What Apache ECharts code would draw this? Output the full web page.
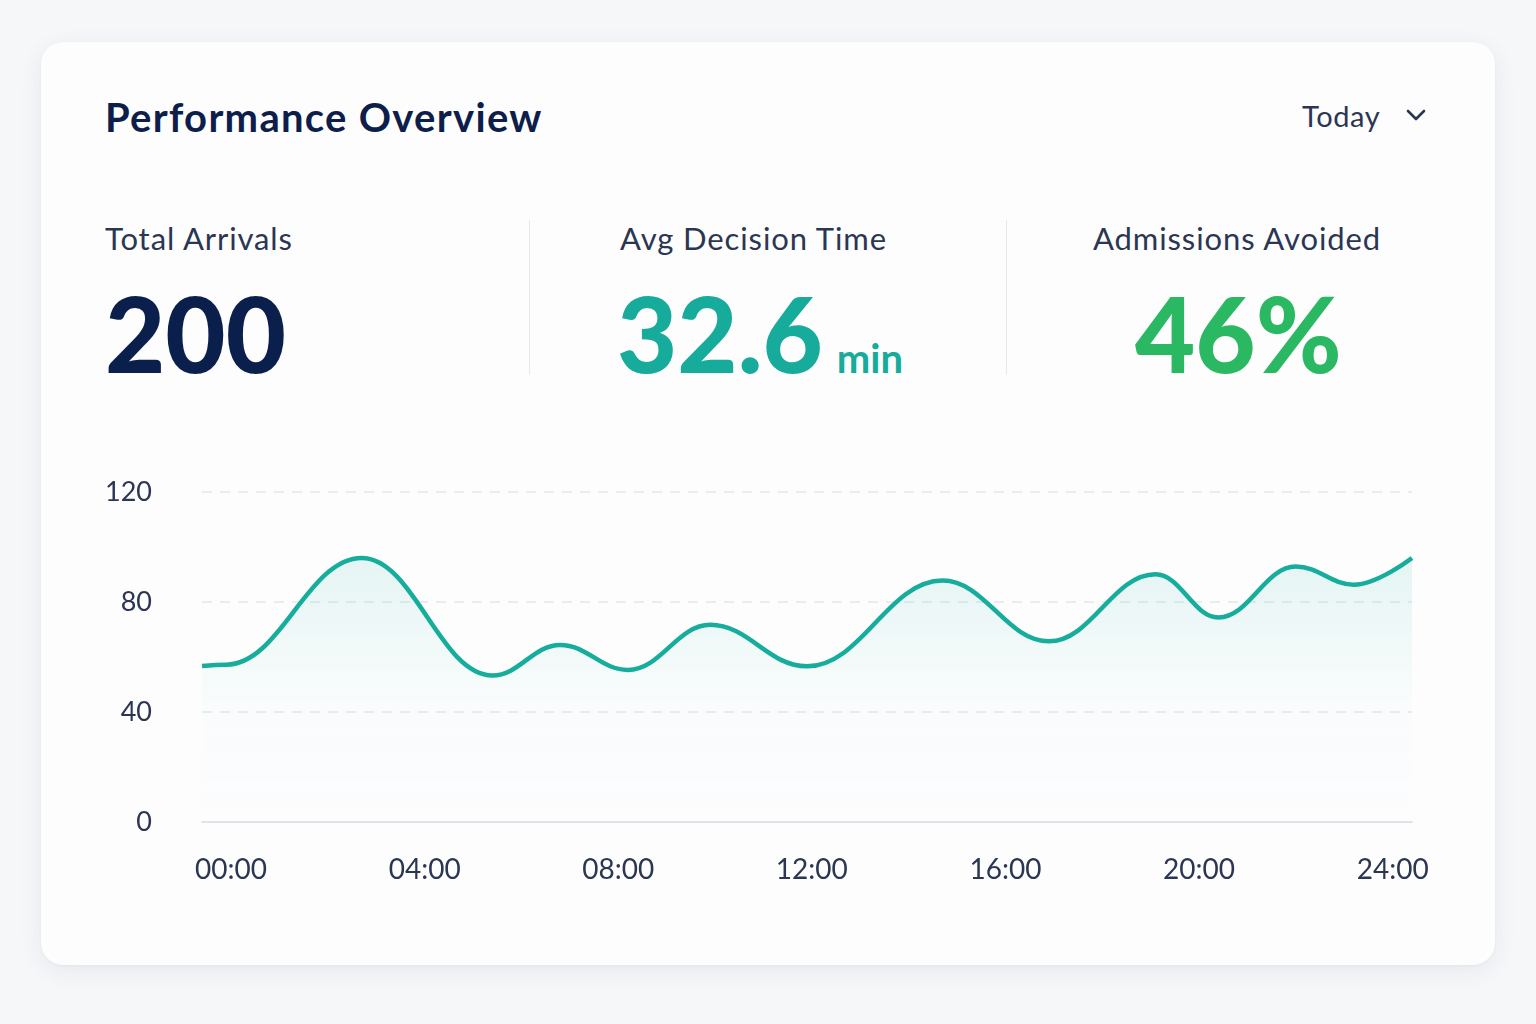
<!DOCTYPE html>
<html>
<head>
<meta charset="utf-8">
<script src="https://cdn.jsdelivr.net/npm/echarts@6/dist/echarts.min.js"></script>
<style>
	html, body { margin:0; padding:0; width:1536px; height:1024px; background:#f6f7f9; overflow:hidden; }
	body { font-family: Lato, "Noto Sans", sans-serif; color:#1f2b4a; position:relative; }
	.card { position:absolute; left:41px; top:42px; width:1454px; height:923px; background:#fdfdfe; border-radius:22px;
		box-shadow:0 6px 24px rgba(30,40,80,0.07), 0 1px 3px rgba(30,40,80,0.04); }
	.title { position:absolute; left:105px; top:93px; font-size:40px; font-weight:700; color:#0e1e4a; letter-spacing:1.3px; }
	.range { position:absolute; left:1302px; top:98px; font-size:29px; color:#2b3652; letter-spacing:0.6px; }
	.chev { position:absolute; left:1405px; top:108px; width:22px; height:14px; }
	.divider { position:absolute; top:220px; width:1px; height:155px; background:#e6e9ee; }
	.kpiLabel { position:absolute; top:219px; font-size:31px; color:#2b3652; white-space:nowrap; letter-spacing:0.9px; }
	.kpiValue { position:absolute; top:276px; font-size:104px; font-weight:900; white-space:nowrap; line-height:1.1; }
	.unit { font-size:40px; font-weight:700; margin-left:14px; }
	#chart { position:absolute; left:41px; top:440px; width:1454px; height:500px; }
</style>
</head>
<body>
<div class="card"></div>
<div class="title">Performance Overview</div>
<div class="range">Today</div>
<svg class="chev" viewBox="0 0 22 14"><polyline points="3,3 11,11 19,3" fill="none" stroke="#2b3652" stroke-width="2.6" stroke-linecap="round" stroke-linejoin="round"/></svg>

<div class="kpiLabel" style="left:105px;">Total Arrivals</div>
<div class="kpiValue" style="left:105px;color:#0b1f4d;">200</div>

<div class="divider" style="left:529px;"></div>
<div class="kpiLabel" style="left:620px;">Avg Decision Time</div>
<div class="kpiValue" style="left:617px;color:#17ab9c;">32.6<span class="unit">min</span></div>

<div class="divider" style="left:1006px;"></div>
<div class="kpiLabel" style="left:1093px;">Admissions Avoided</div>
<div class="kpiValue" style="left:1135px;color:#2bb862;">46%</div>

<div id="chart"></div>

<script>
	var hours    = [-0.6, -0.1, 2.7, 5.4, 6.8, 8.2, 9.9, 11.9, 14.7, 16.9, 19.1, 20.4, 22.0, 23.2, 24.4];
	var arrivals = [56.7, 57.2, 96.0, 53.3, 64.4, 55.3, 71.7, 56.6, 87.8, 65.7, 90.1, 74.4, 92.9, 86.3, 96.0];
	var hourTicks = [0, 4, 8, 12, 16, 20, 24];
	var valueTicks = [0, 40, 80, 120];

	var points = [];
	for (var i = 0; i < hours.length; i++) {
		points.push([hours[i], arrivals[i]]);
	}

	var myChart = echarts.init(document.getElementById('chart'));
	var option = {
		animation: false,
		grid: { left: 161, right: 83, top: 52, bottom: 118 },
		xAxis: {
			type: 'value',
			min: -0.6,
			max: 24.4,
			axisLine: { show: true, lineStyle: { color: '#dfe3ea', width: 2 } },
			axisTick: { show: false },
			splitLine: { show: false },
			axisLabel: {
				customValues: hourTicks,
				margin: 34,
				fontSize: 28,
				fontFamily: 'Lato',
				color: '#2b3652',
				formatter: function (v) {
					var h = Math.round(v);
					return (h < 10 ? '0' + h : '' + h) + ':00';
				}
			}
		},
		yAxis: {
			type: 'value',
			min: 0,
			max: 120,
			interval: 40,
			axisLine: { show: false },
			axisTick: { show: false },
			axisLabel: {
				margin: 50,
				fontSize: 27,
				fontFamily: 'Lato',
				color: '#2b3652',
				formatter: function (v) { return valueTicks.indexOf(v) >= 0 ? '' + v : ''; }
			},
			splitLine: { show: true, lineStyle: { color: '#e4e7ec', type: [10, 8], width: 1.5 } }
		},
		series: [{
			type: 'line',
			data: points,
			smooth: 0.4,
			smoothMonotone: 'x',
			symbol: 'none',
			lineStyle: { color: '#16ad9d', width: 4.5 },
			areaStyle: {
				color: new echarts.graphic.LinearGradient(0, 0, 0, 1, [
					{ offset: 0, color: 'rgba(22,173,157,0.15)' },
					{ offset: 0.55, color: 'rgba(22,173,157,0.025)' },
					{ offset: 1, color: 'rgba(22,173,157,0)' }
				])
			}
		}]
	};
	myChart.setOption(option);
</script>
</body>
</html>
